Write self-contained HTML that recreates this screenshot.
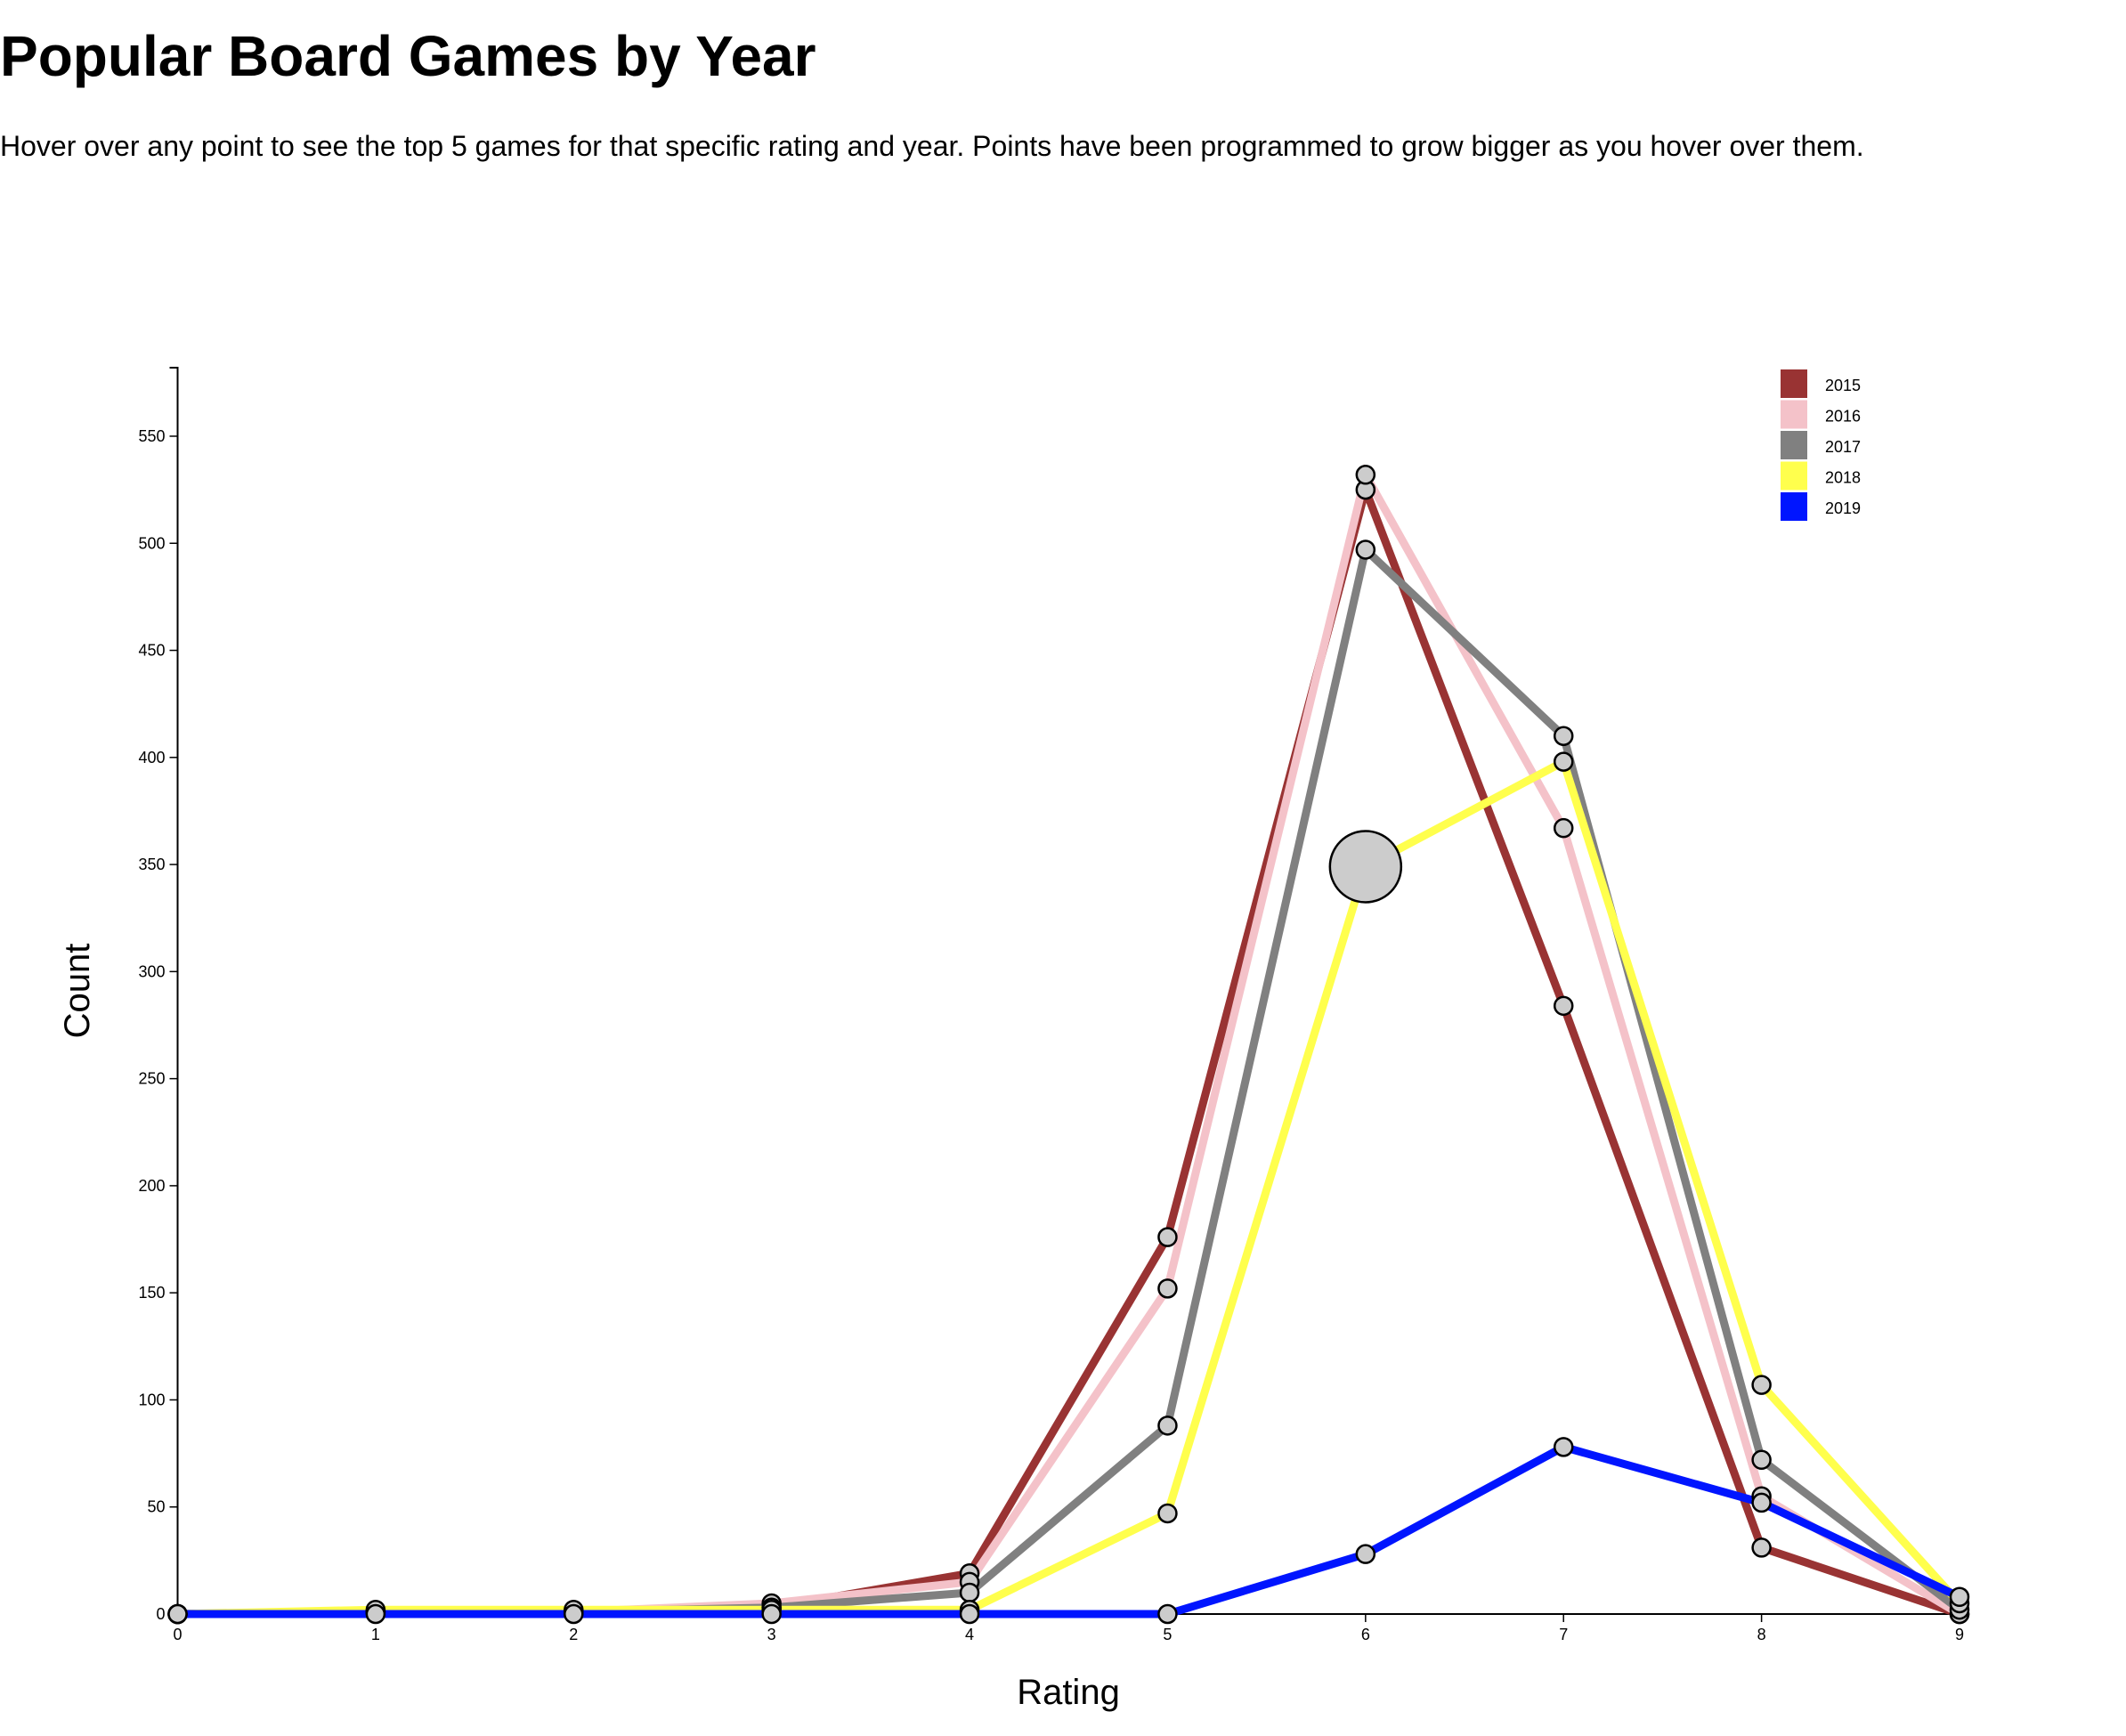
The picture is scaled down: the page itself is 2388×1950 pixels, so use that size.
<!DOCTYPE html>
<html><head><meta charset="utf-8"><style>
body{margin:0;width:2388px;height:1950px;background:#fff;font-family:"Liberation Sans",Arial,sans-serif;overflow:hidden;}
h1{position:absolute;left:0;top:26px;margin:0;font-size:64px;font-weight:bold;}
p{position:absolute;left:0;top:146px;margin:0;font-size:32px;}
svg{position:absolute;left:0;top:0;}
</style></head><body>
<h1>Popular Board Games by Year</h1>
<p>Hover over any point to see the top 5 games for that specific rating and year. Points have been programmed to grow bigger as you hover over them.</p>
<svg id="chart" width="2388" height="1950"></svg>
<script>
const ratings=[0,1,2,3,4,5,6,7,8,9];
const years=["2015","2016","2017","2018","2019"];
const colors=["#993333","#f4c2c9","#808080","#ffff4d","#0015ff"];
const s2015=[0,1,1,3,19,176,525,284,31,0];
const s2016=[0,1,1,5,15,152,532,367,55,0];
const s2017=[0,1,1,3,10,88,497,410,72,2];
const s2018=[0,2,2,2,2,47,349,398,107,5];
const s2019=[0,0,0,0,0,0,28,78,52,8];
const yTicks=[0,50,100,150,200,250,300,350,400,450,500,550];
const series=[s2015,s2016,s2017,s2018,s2019];
const yMax=582;
const X0=199.5,X1=2201,Y0=1813,YT=413;
const x=v=>X0+(v-ratings[0])/(ratings[ratings.length-1]-ratings[0])*(X1-X0);
const y=v=>Y0-v/yMax*(Y0-YT);
const svg=document.getElementById('chart');
const NS="http://www.w3.org/2000/svg";
function mk(t,a,p){const e=document.createElementNS(NS,t);for(const k in a)e.setAttribute(k,a[k]);(p||svg).appendChild(e);return e;}
const xa=mk('g',{});


mk('line',{x1:X0,x2:X1,y1:Y0,y2:Y0,stroke:'#000','stroke-width':2},xa);
ratings.forEach(r=>{
  mk('line',{x1:x(r),x2:x(r),y1:Y0,y2:Y0+9,stroke:'#000','stroke-width':1.5},xa);
  const t=mk('text',{x:x(r),y:Y0+29,'text-anchor':'middle','font-size':18},xa);t.textContent=r;
  
  
});
const ya=mk('g',{});


mk('path',{d:`M${X0-9},${YT}H${X0}V${Y0}H${X0-9}`,fill:'none',stroke:'#000','stroke-width':2},ya);
yTicks.forEach(v=>{
  mk('line',{x1:X0-9,x2:X0,y1:y(v),y2:y(v),stroke:'#000','stroke-width':1.5},ya);
  const t=mk('text',{x:X0-14,y:y(v)+6,'text-anchor':'end','font-size':18},ya);t.textContent=v;
  
  
});
const yt=mk('text',{x:0,y:0,transform:'translate(100,1113) rotate(-90)','text-anchor':'middle','font-size':40});yt.textContent='Count';


const xt=mk('text',{x:1200,y:1914,'text-anchor':'middle','font-size':40});xt.textContent='Rating';


series.forEach((s,i)=>{
  const p=mk('path',{d:s.map((v,j)=>(j?'L':'M')+x(ratings[j])+','+y(v)).join(''),fill:'none',stroke:colors[i],'stroke-width':9});
  
  
});
series.forEach((s,i)=>{
  s.forEach((v,j)=>{
    const big=(i===3&&j===6);
    const c=mk('circle',{cx:x(ratings[j]),cy:y(v),r:big?40:10,fill:'#cccccc',stroke:'#000','stroke-width':2.5});
    
    
  });
});
years.forEach((yr,i)=>{
  const g=mk('g',{});
  
  
  mk('rect',{x:2000,y:415+i*34.5,width:30,height:32,fill:colors[i]},g);
  const t=mk('text',{x:2050,y:439+i*34.5,'font-size':18},g);t.textContent=yr;
});
</script>
</body></html>
